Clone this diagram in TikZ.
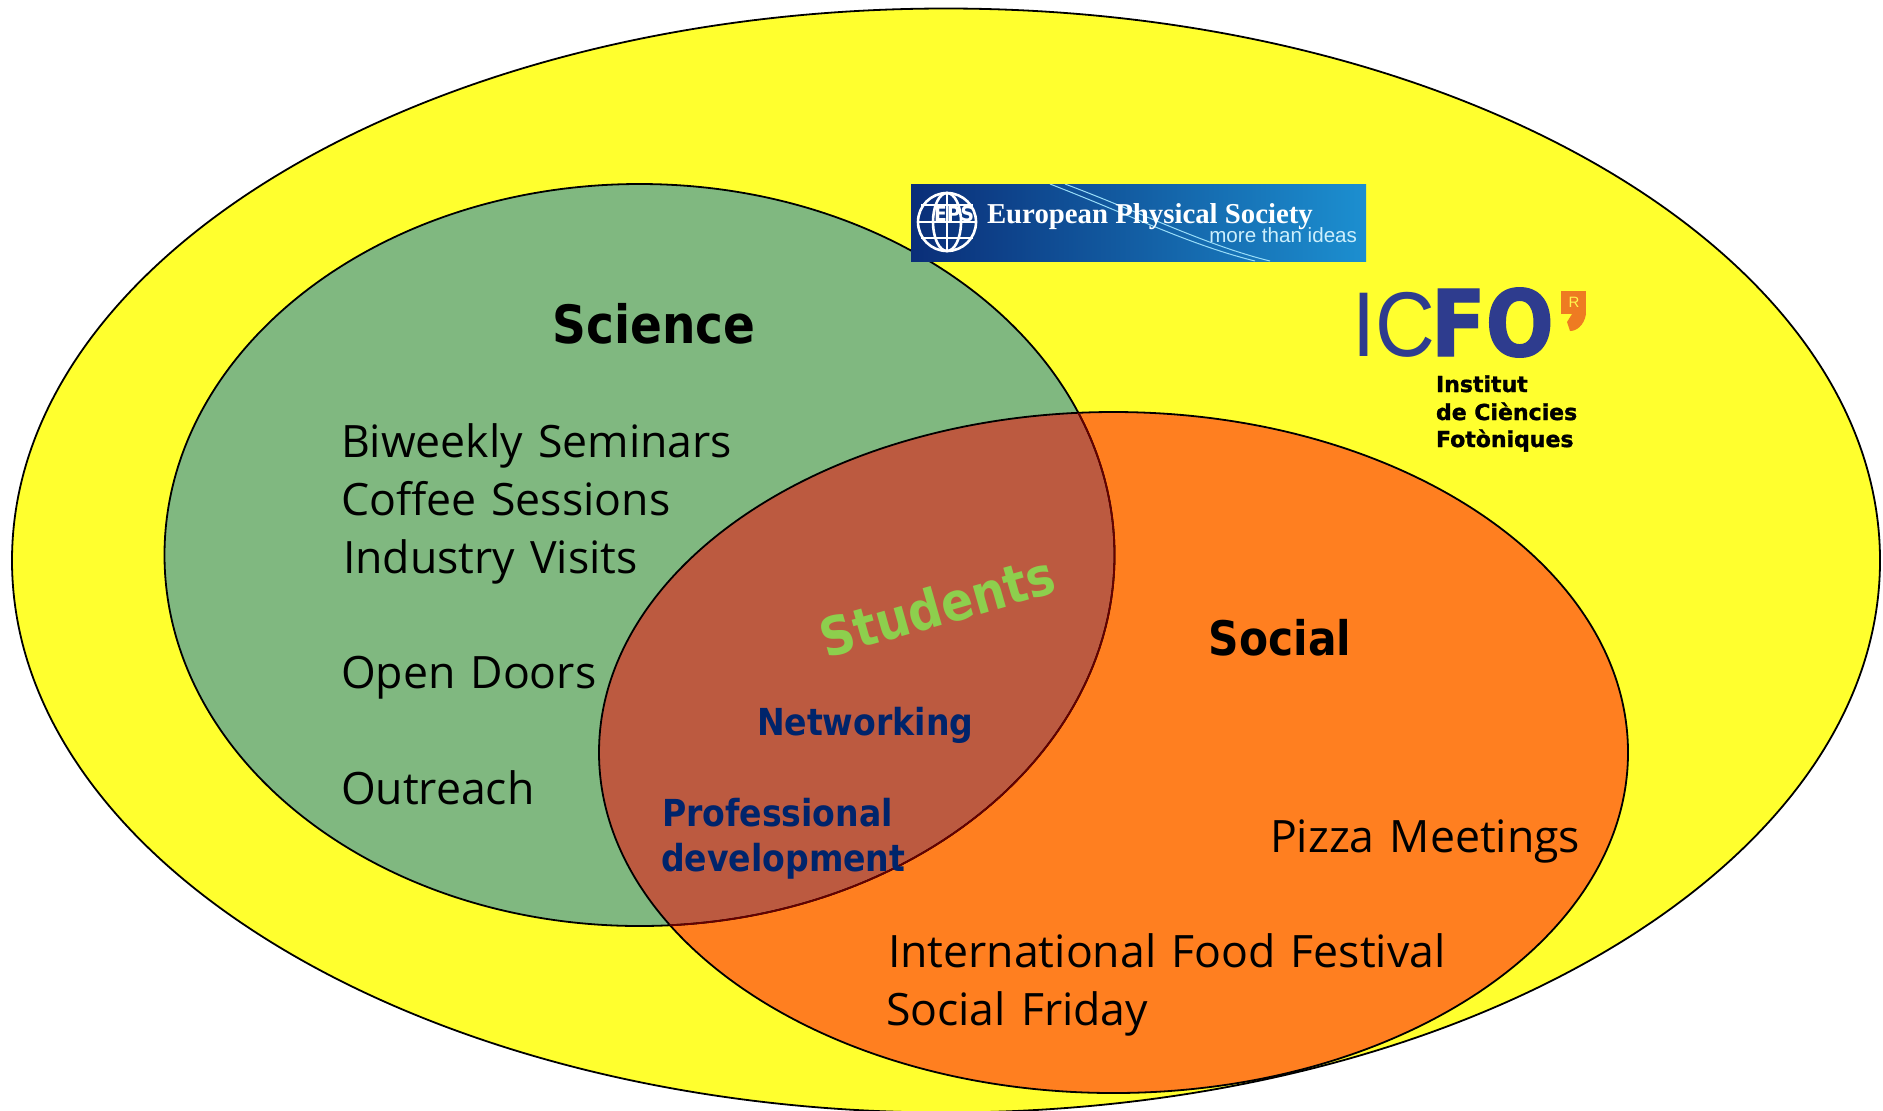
\documentclass[tikz,border=0pt]{standalone}
\usepackage{fontspec}
\setmainfont{Open Sans}[WordSpace=1.3]
\newfontfamily\hbn{DejaVu Sans Bold}[FakeStretch=0.89]
\newfontfamily\hbh{DejaVu Sans Bold}[FakeBold=1.5]
\newfontfamily\hbf{DejaVu Sans Bold}[FakeStretch=0.87,FakeBold=1.5]
\newfontfamily\lib{Liberation Sans}
\newfontfamily\libn{Liberation Sans}[FakeStretch=0.9]
\newfontfamily\libs{Liberation Serif}
\usetikzlibrary{shadings}
\definecolor{cyellow}{HTML}{FFFF2E}
\definecolor{cgreen}{HTML}{80B880}
\definecolor{corange}{HTML}{FF7F20}
\definecolor{cover}{HTML}{BC5A40}
\definecolor{cdark}{HTML}{660000}
\definecolor{cnavy}{HTML}{00246B}
\definecolor{cstud}{HTML}{8DCF4D}
\definecolor{cicfo}{HTML}{2E3C8E}
\definecolor{cicfor}{HTML}{EE7B22}
\definecolor{epsa}{HTML}{0A2E78}
\definecolor{epsb}{HTML}{0A62B0}
\definecolor{epsc}{HTML}{1C8FD0}
\begin{document}
\begin{tikzpicture}[x=0.5pt,y=-0.5pt,
  inner sep=0pt, outer sep=0pt,
  body/.style={anchor=base west,font=\fontsize{22.3}{27}\selectfont},
  sub/.style={anchor=base west,text=cnavy,font=\hbn\fontsize{18.6}{23}\selectfont},
  inst/.style={anchor=base west,font=\hbh\fontsize{11}{12}\selectfont},
  outline/.style={line width=0.9pt}]
\useasboundingbox (0,0) rectangle (1883,1110);
\clip (0,0) rectangle (1883,1110);
\fill[white] (0,0) rectangle (1883,1110);
% ellipses
\draw[fill=cyellow,outline] (946,560.5) ellipse [x radius=934,y radius=552];
\fill[cgreen] (639.5,555) ellipse [x radius=475,y radius=371];
\fill[corange] (1113.5,752.5) ellipse [x radius=514.5,y radius=340.5];
\begin{scope}
  \clip (639.5,555) ellipse [x radius=475,y radius=371];
  \fill[cover] (1113.5,752.5) ellipse [x radius=514.5,y radius=340.5];
\end{scope}
\draw[outline] (639.5,555) ellipse [x radius=475,y radius=371];
\draw[outline] (1113.5,752.5) ellipse [x radius=514.5,y radius=340.5];
\begin{scope}
  \clip (1113.5,752.5) ellipse [x radius=514.5,y radius=340.5];
  \draw[cdark,outline] (639.5,555) ellipse [x radius=475,y radius=371];
\end{scope}
% EPS banner
\shade[left color=epsa,middle color=epsb,right color=epsc] (911,184) rectangle (1366,261);
\begin{scope}
  \clip (911,184) rectangle (1366,261);
  \draw[white!60!cyan,line width=0.5pt] (1050,184) .. controls (1130,215) and (1190,245) .. (1255,261);
  \draw[white!60!cyan,line width=0.5pt] (1065,184) .. controls (1140,212) and (1205,245) .. (1270,261);
\end{scope}
\begin{scope}[white,line width=1.3pt]
  \draw (947,222) circle [radius=29];
  \draw (947,222) ellipse [x radius=14,y radius=29];
  \draw (947,193) -- (947,251);
  \draw (921,205) -- (973,205);
  \draw (918,222) -- (976,222);
  \draw (921,238) -- (973,238);
\end{scope}
\node[anchor=base,text=white,font=\hbn\fontsize{10.5}{11}\selectfont] (epsmark) at (954,221) {EPS};
\node[anchor=base west,text=white,font=\libs\bfseries\fontsize{14.4}{16}\selectfont] (epsname) at (987,223) {European Physical Society};
\node[anchor=base east,text=white!80!cyan,font=\lib\fontsize{10.3}{12}\selectfont] (epstag) at (1357,242) {more than ideas};
% ICFO logo
\node[anchor=base west,text=cicfo,font=\libn\fontsize{46}{50}\selectfont] (icfoa) at (1352,356) {IC};
\node[anchor=base west,text=cicfo,font=\hbf\fontsize{46}{50}\selectfont] (icfob) at (1431,356) {FO};
\fill[cicfor] (1561,291) rectangle (1586,314);
\fill[cicfor] (1586,314) .. controls (1584,326) and (1576,331) .. (1570,331) -- (1567,322) -- (1572,314) -- cycle;
\node[text=yellow!70!white,font=\lib\fontsize{7.5}{8}\selectfont] (icfor) at (1574,302) {R};
\node[inst] (i1) at (1436,392) {Institut};
\node[inst] (i2) at (1436,420) {de Ciències};
\node[inst] (i3) at (1436,447) {Fotòniques};
% labels
\node[font=\hbn\fontsize{26.4}{30}\selectfont] (science) at (654,324) {Science};
\node[body] (t1) at (341,457) {Biweekly Seminars};
\node[body] (t2) at (341,515) {Coffee Sessions};
\node[body] (t3) at (343,573) {Industry Visits};
\node[body] (t4) at (341,688) {Open Doors};
\node[body] (t5) at (341,804) {Outreach};
\node[font=\hbn\fontsize{23.8}{27}\selectfont] (social) at (1280,638) {Social};
\node[body] (t6) at (1270,852) {Pizza Meetings};
\node[body] (t7) at (888,967) {International Food Festival};
\node[body] (t8) at (886,1025) {Social Friday};
\node[rotate=16,text=cstud,font=\hbn\fontsize{26.6}{30}\selectfont] (students) at (937,606) {Students};
\node[sub] (n1) at (757,735) {Networking};
\node[sub] (n2) at (662,826) {Professional};
\node[sub] (n3) at (661,871) {development};
\end{tikzpicture}
\end{document}
